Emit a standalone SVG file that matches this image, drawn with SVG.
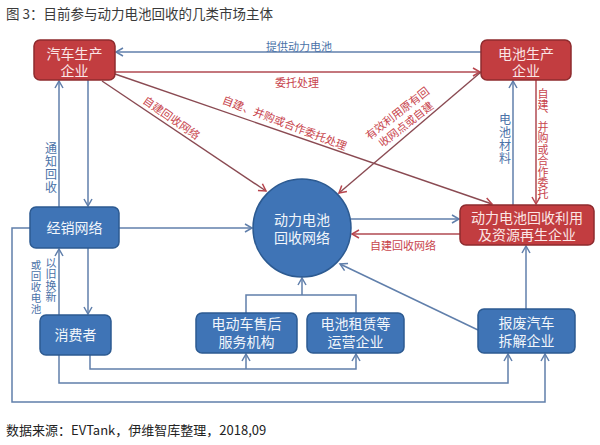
<svg xmlns="http://www.w3.org/2000/svg" width="600" height="445" viewBox="0 0 600 445">
<defs>
<style>
text{font-family:"Noto Sans CJK SC","Noto Sans",sans-serif;}
.red{fill:#c23d40;stroke:#8e2b2e;stroke-width:1.5;}
.blue{fill:#3f74b6;stroke:#2c5a91;stroke-width:1.5;}
.rt{fill:#fbe6e6;font-size:14px;text-anchor:middle;dominant-baseline:central;font-family:"Liberation Sans","Noto Sans CJK SC",sans-serif;}
.bt{fill:#f2f6fb;font-size:14px;text-anchor:middle;dominant-baseline:central;font-family:"Liberation Sans","Noto Sans CJK SC",sans-serif;}
.bl{fill:none;stroke:#607fab;stroke-width:1.5;}
.rl{fill:none;stroke:#b04a52;stroke-width:1.5;}
.dl{fill:none;stroke:#8a4a52;stroke-width:1.4;}
.lr{fill:#c8444c;font-size:11px;text-anchor:middle;dominant-baseline:central;}
.lb{fill:#4a72a8;font-size:11px;text-anchor:middle;dominant-baseline:central;}
.vr{fill:#c8444c;font-size:11px;writing-mode:vertical-rl;}
.vb{fill:#4a72a8;font-size:11px;writing-mode:vertical-rl;}
</style>
<marker id="ab" markerUnits="userSpaceOnUse" markerWidth="12" markerHeight="12" refX="8" refY="5" orient="auto">
<path d="M1,1 L8,5 L1,9" fill="none" stroke="#607fab" stroke-width="1.5"/>
</marker>
<marker id="ar" markerUnits="userSpaceOnUse" markerWidth="12" markerHeight="12" refX="8" refY="5" orient="auto">
<path d="M1,1 L8,5 L1,9" fill="none" stroke="#b8454d" stroke-width="1.5"/>
</marker>
</defs>
<rect width="600" height="445" fill="#ffffff"/>
<text x="6" y="19" font-size="13.5" fill="#3a3a3a">图 3：目前参与动力电池回收的几类市场主体</text>

<g id="connectors">
<line class="bl" x1="481" y1="52" x2="116" y2="52" marker-end="url(#ab)"/>
<line class="rl" x1="115" y1="72" x2="480" y2="72" marker-end="url(#ar)"/>
<line class="dl" x1="102" y1="81" x2="266" y2="191" marker-end="url(#ar)"/>
<line class="dl" x1="115" y1="74" x2="492" y2="204" marker-end="url(#ar)"/>
<line class="dl" x1="481" y1="72" x2="339" y2="193" marker-end="url(#ar)"/>
<line class="bl" x1="513" y1="205" x2="513" y2="81" marker-end="url(#ab)"/>
<line class="rl" x1="536" y1="80" x2="536" y2="204" marker-end="url(#ar)"/>
<line class="bl" x1="351" y1="219" x2="459" y2="219" marker-end="url(#ab)"/>
<line class="rl" x1="460" y1="234" x2="352" y2="234" marker-end="url(#ar)"/>
<line class="bl" x1="119" y1="228" x2="252" y2="228" marker-end="url(#ab)"/>
<line class="bl" x1="59" y1="207" x2="59" y2="81" marker-end="url(#ab)"/>
<line class="bl" x1="88" y1="80" x2="88" y2="206" marker-end="url(#ab)"/>
<line class="bl" x1="59" y1="315" x2="59" y2="249" marker-end="url(#ab)"/>
<line class="bl" x1="88" y1="248" x2="88" y2="314" marker-end="url(#ab)"/>
<polyline class="bl" points="30,228 12,228 12,402 545,402 545,354" marker-end="url(#ab)"/>
<polyline class="bl" points="59,355 59,383 508,383 508,354" marker-end="url(#ab)"/>
<polyline class="bl" points="90,355 90,369 356,369 356,354" marker-end="url(#ab)"/>
<line class="bl" x1="246" y1="369" x2="246" y2="354" marker-end="url(#ab)"/>
<polyline class="bl" points="246,313 246,295 356,295 356,313"/>
<line class="bl" x1="302" y1="295" x2="302" y2="278" marker-end="url(#ab)"/>
<line class="bl" x1="478" y1="330" x2="340" y2="264" marker-end="url(#ab)"/>
<line class="bl" x1="526" y1="309" x2="526" y2="246" marker-end="url(#ab)"/>

<text class="lb" x="299" y="46">提供动力电池</text>
<text class="lr" x="297" y="82">委托处理</text>
<text class="lr" transform="translate(172,117) rotate(35)">自建回收网络</text>
<text class="lr" transform="translate(285,122) rotate(21)">自建、并购或合作委托处理</text>
<text class="lr" transform="translate(401,118) rotate(-38)"><tspan x="0" y="-7">有效利用原有回</tspan><tspan x="0" y="7">收网点或自建</tspan></text>
<text class="lr" x="403" y="245">自建回收网络</text>
<text class="vb" x="505" y="113" style="font-size:12px;letter-spacing:1px">电池材料</text>
<text class="vr" x="543" y="88" style="letter-spacing:0.2px">自建、并购或合作委托</text>
<text class="vb" x="51" y="142" style="font-size:12px;letter-spacing:1px">通知回收</text>
<text class="vb" x="51" y="257.5" style="letter-spacing:0.3px">以旧换新</text>
<text class="vb" x="36" y="260" style="font-size:10.5px;letter-spacing:0.5px">或回收电池</text>
</g>

<g id="car">
<rect class="red" x="34" y="40" width="81" height="40" rx="6"/>
<text class="rt"><tspan x="74.5" y="54">汽车生产</tspan><tspan x="74.5" y="70.5">企业</tspan></text>
</g>
<g id="battery">
<rect class="red" x="481" y="40" width="90" height="40" rx="6"/>
<text class="rt"><tspan x="526" y="54">电池生产</tspan><tspan x="526" y="70.5">企业</tspan></text>
</g>
<g id="recycler">
<rect class="red" x="460" y="205" width="134" height="40" rx="6"/>
<text class="rt"><tspan x="527" y="217.5">动力电池回收利用</tspan><tspan x="527" y="234.5">及资源再生企业</tspan></text>
</g>
<g id="network">
<circle class="blue" cx="302" cy="228" r="49"/>
<text class="bt"><tspan x="302" y="220">动力电池</tspan><tspan x="302" y="238">回收网络</tspan></text>
</g>
<g id="dealer">
<rect class="blue" x="30" y="207" width="89" height="41" rx="6"/>
<text class="bt" x="74.5" y="228">经销网络</text>
</g>
<g id="consumer">
<rect class="blue" x="40" y="315" width="71" height="40" rx="6"/>
<text class="bt" x="75.5" y="335">消费者</text>
</g>
<g id="service">
<rect class="blue" x="196" y="313" width="101" height="40" rx="6"/>
<text class="bt"><tspan x="246.5" y="324">电动车售后</tspan><tspan x="246.5" y="342">服务机构</tspan></text>
</g>
<g id="leasing">
<rect class="blue" x="307" y="313" width="97" height="40" rx="6"/>
<text class="bt"><tspan x="355.5" y="324">电池租赁等</tspan><tspan x="355.5" y="342">运营企业</tspan></text>
</g>
<g id="scrap">
<rect class="blue" x="478" y="309" width="97" height="44" rx="6"/>
<text class="bt"><tspan x="526.5" y="323">报废汽车</tspan><tspan x="526.5" y="341">拆解企业</tspan></text>
</g>

<text x="6" y="435" font-size="13" fill="#222222">数据来源：EVTank，伊维智库整理，2018,09</text>
</svg>
